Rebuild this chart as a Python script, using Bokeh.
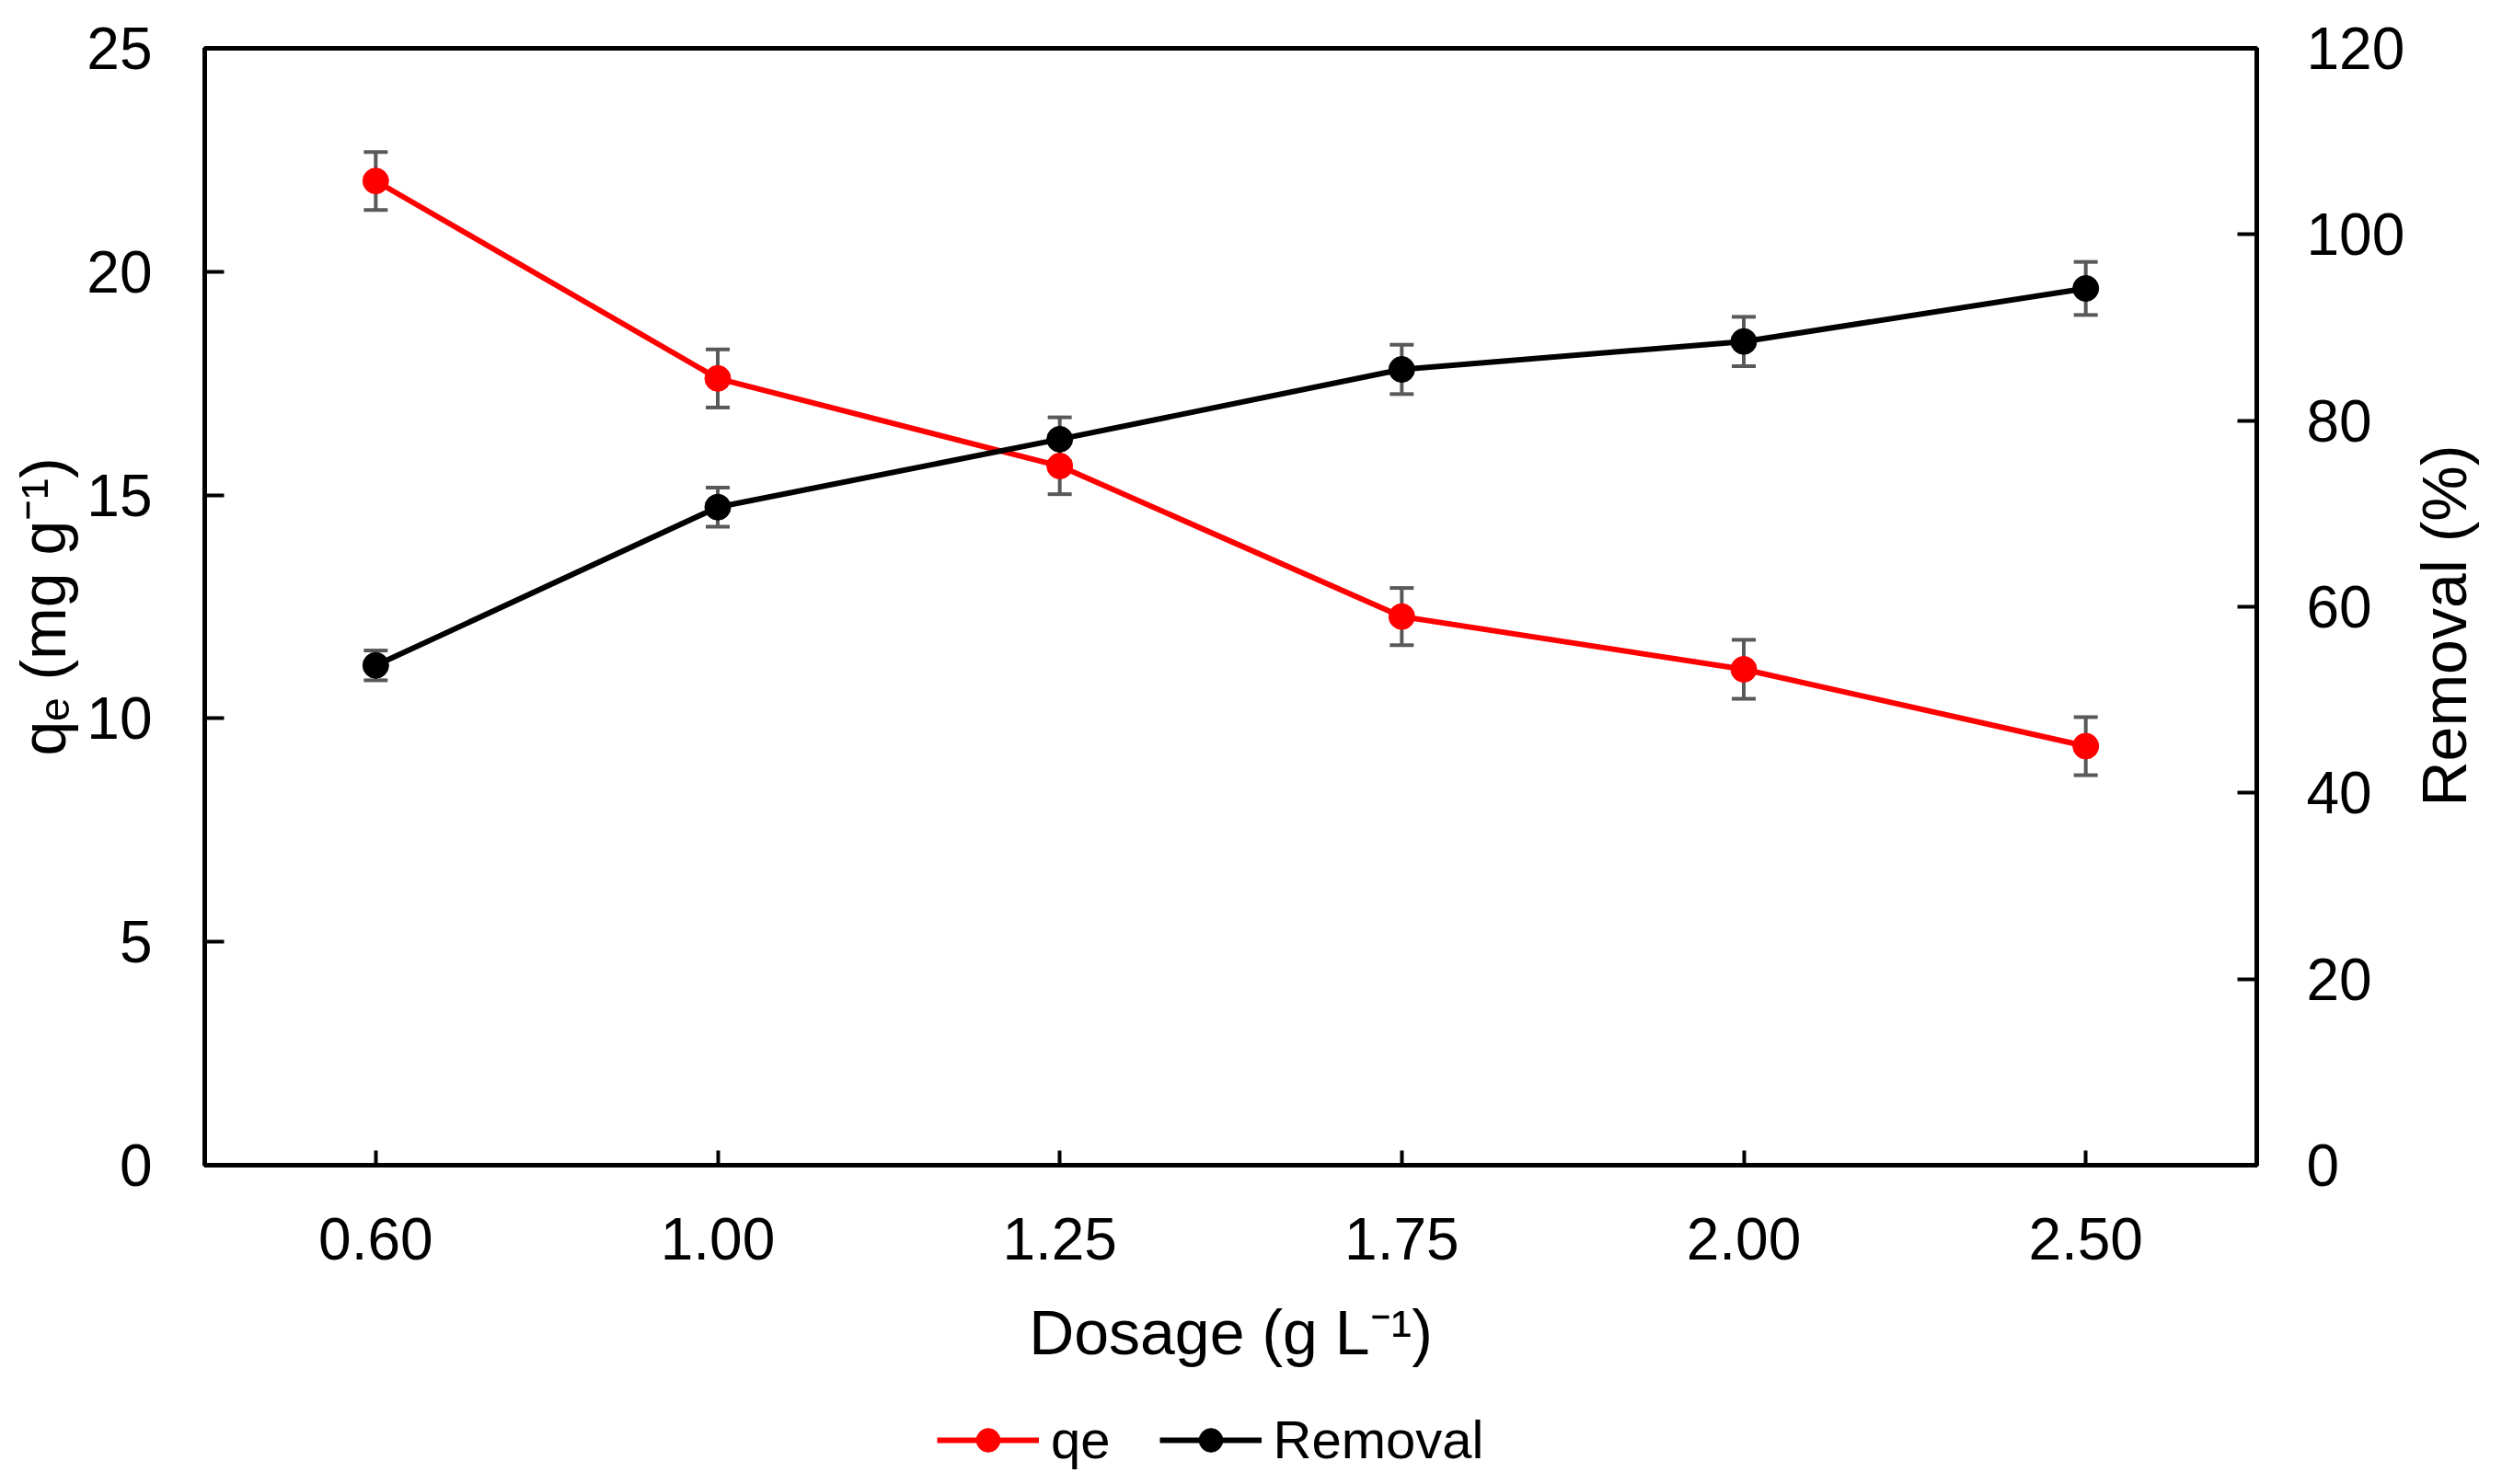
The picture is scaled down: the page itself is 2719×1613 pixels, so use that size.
from bokeh.plotting import figure
from bokeh.layouts import row, column
from bokeh.models import (Range1d, LinearAxis, FixedTicker, Whisker, TeeHead,
                          ColumnDataSource, Legend, LegendItem, FactorRange, Title)
from bokeh.embed import file_html
from bokeh.resources import INLINE

# ---- data ----
dosage = ["0.60", "1.00", "1.25", "1.75", "2.00", "2.50"]
qe = [22.03, 17.61, 15.65, 12.28, 11.10, 9.38]
qe_err = [0.65, 0.65, 0.63, 0.64, 0.66, 0.65]
removal = [53.7, 70.7, 78.0, 85.5, 88.5, 94.2]
removal_err = [1.6, 2.1, 2.35, 2.65, 2.65, 2.85]
qe_ticks = [0, 5, 10, 15, 20, 25]
removal_ticks = [0, 20, 40, 60, 80, 100, 120]

FONT = "Liberation Sans"
RED = "#ff0000"
ERR = "#595959"
TOTAL_H = 1605
TOP = 52
FRAME_BOTTOM = 1266
BOTTOM = 240
H = FRAME_BOTTOM + BOTTOM          # height of the main plot row

src = ColumnDataSource(dict(
    x=dosage, qe=qe, removal=removal,
    qe_up=[v + e for v, e in zip(qe, qe_err)],
    qe_lo=[v - e for v, e in zip(qe, qe_err)],
    rm_up=[v + e for v, e in zip(removal, removal_err)],
    rm_lo=[v - e for v, e in zip(removal, removal_err)],
))

p = figure(width=2616, height=H, x_range=FactorRange(factors=dosage),
           y_range=Range1d(0, 25), output_backend="svg", toolbar_location=None,
           min_border_left=222, min_border_right=162, min_border_top=TOP,
           min_border_bottom=BOTTOM)
p.extra_y_ranges = {"rem": Range1d(0, 120)}
p.xgrid.visible = False
p.ygrid.visible = False
p.outline_line_color = "black"
p.outline_line_width = 5
p.background_fill_color = "white"
p.border_fill_color = "white"

ya = p.yaxis[0]
ya.ticker = FixedTicker(ticks=qe_ticks)
ya.axis_label = "qₑ (mg g⁻¹)"
xa = p.xaxis[0]
xa.axis_label = "Dosage (g L⁻¹)"

ra = LinearAxis(y_range_name="rem", ticker=FixedTicker(ticks=removal_ticks))
p.add_layout(ra, "right")

for ax in (ya, ra, xa):
    ax.axis_line_color = "black"
    ax.axis_line_width = 5
    ax.major_tick_line_color = "black"
    ax.major_tick_line_width = 4
    ax.major_tick_in = 21
    ax.major_tick_out = 0
    ax.minor_tick_in = 0
    ax.minor_tick_out = 0
    ax.major_label_text_font = FONT
    ax.major_label_text_font_size = "64px"
    ax.major_label_text_color = "black"
    ax.axis_label_text_font = FONT
    ax.axis_label_text_font_size = "68px"
    ax.axis_label_text_font_style = "normal"
    ax.axis_label_text_color = "black"
    ax.major_label_standoff = 57

ra.major_label_standoff = 54
xa.major_tick_in = 16
xa.major_label_standoff = 57
xa.axis_label_standoff = 38
ya.axis_label_standoff = 6

# error bars (drawn under the markers)
for up, lo, rng in (("qe_up", "qe_lo", None), ("rm_up", "rm_lo", "rem")):
    w = Whisker(source=src, base="x", upper=up, lower=lo, dimension="height",
                line_color=ERR, line_width=4,
                upper_head=TeeHead(size=26, line_color=ERR, line_width=4),
                lower_head=TeeHead(size=26, line_color=ERR, line_width=4))
    if rng:
        w.y_range_name = rng
    p.add_layout(w)

p.line("x", "qe", source=src, line_color=RED, line_width=6)
p.scatter("x", "qe", source=src, size=28, fill_color=RED, line_color=RED)
p.line("x", "removal", source=src, line_color="black", line_width=6,
       y_range_name="rem")
p.scatter("x", "removal", source=src, size=28, fill_color="black",
          line_color="black", y_range_name="rem")

# right-hand title, reading bottom-to-top, in a narrow companion figure
p2 = figure(width=95, height=H, x_range=Range1d(0, 1), y_range=Range1d(0, 1),
            output_backend="svg", toolbar_location=None,
            x_axis_type=None, y_axis_type=None,
            min_border_left=75, min_border_right=0,
            min_border_top=TOP, min_border_bottom=BOTTOM)
p2.outline_line_color = None
p2.background_fill_color = "white"
p2.border_fill_color = "white"
p2.add_layout(Title(text="Removal (%)", align="left", offset=390,
                    vertical_align="middle",
                    text_font=FONT, text_font_size="68px",
                    text_font_style="normal", text_color="black", standoff=0),
              "left")

# legend strip under the plot (its renderers are hidden; only the legend shows)
p3 = figure(width=2711, height=TOTAL_H - H, x_range=FactorRange(factors=dosage),
            y_range=Range1d(0, 1), output_backend="svg", toolbar_location=None,
            x_axis_type=None, y_axis_type=None, min_border=0,
            min_border_left=222)
p3.outline_line_color = None
p3.background_fill_color = "white"
p3.border_fill_color = "white"
k1 = p3.line("x", "qe", source=src, line_color=RED, line_width=6, visible=False)
k2 = p3.scatter("x", "qe", source=src, size=28, fill_color=RED,
                line_color=RED, visible=False)
k3 = p3.line("x", "removal", source=src, line_color="black", line_width=6,
             visible=False)
k4 = p3.scatter("x", "removal", source=src, size=28, fill_color="black",
                line_color="black", visible=False)
legend = Legend(items=[LegendItem(label="qe", renderers=[k1, k2]),
                       LegendItem(label="Removal", renderers=[k3, k4])],
                orientation="horizontal", location=(796, 7),
                label_text_font=FONT, label_text_font_size="58px",
                label_text_color="black",
                glyph_width=111, glyph_height=64, label_standoff=13,
                spacing=53, padding=0, margin=0, click_policy="none",
                border_line_color=None, background_fill_alpha=0)
p3.add_layout(legend, "center")

layout = column(row(p, p2, spacing=0), p3, spacing=0)
open("out.html", "w").write(file_html(layout, INLINE))
